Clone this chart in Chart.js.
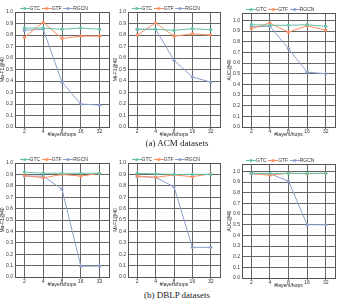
<!DOCTYPE html>
<html>
<head>
<meta charset="utf-8">
<script src="https://cdn.jsdelivr.net/npm/chart.js@4.4.0/dist/chart.umd.min.js"></script>
<style>
  body { margin: 0; background: #fff; width: 349px; height: 307px; position: relative; overflow: hidden; }
  canvas { position: absolute; }
  .cap { position: absolute; left: 0; width: 354px; text-align: center; font-family: "Liberation Serif", serif; font-size: 9px; color: #222; }
</style>
</head>
<body>
<canvas id="acmMa"></canvas>
<canvas id="acmMi"></canvas>
<canvas id="acmAuc"></canvas>
<canvas id="dblpMa"></canvas>
<canvas id="dblpMi"></canvas>
<canvas id="dblpAuc"></canvas>
<div class="cap" style="top:138px">(a) ACM datasets</div>
<div class="cap" style="top:290px">(b) DBLP datasets</div>
<script>
// x categories and series
const hops = ['2', '4', '8', '16', '32'];
const seriesNames = ['GTC', 'GTF', 'RGCN'];
const seriesColors = ['#66c2a5', '#fc8d62', '#8da0cb'];

// ACM
const acmMaGTC = [0.86, 0.86, 0.85, 0.86, 0.85];
const acmMaGTF = [0.78, 0.91, 0.77, 0.79, 0.79];
const acmMaRGCN = [0.84, 0.85, 0.39, 0.20, 0.19];

const acmMiGTC = [0.85, 0.85, 0.84, 0.855, 0.845];
const acmMiGTF = [0.80, 0.905, 0.79, 0.81, 0.80];
const acmMiRGCN = [0.85, 0.85, 0.58, 0.435, 0.39];

const acmAucGTC = [0.96, 0.955, 0.955, 0.96, 0.945];
const acmAucGTF = [0.925, 0.975, 0.89, 0.95, 0.91];
const acmAucRGCN = [0.94, 0.945, 0.735, 0.515, 0.50];

// DBLP
const dblpMaGTC = [0.92, 0.91, 0.91, 0.91, 0.91];
const dblpMaGTF = [0.89, 0.87, 0.90, 0.885, 0.91];
const dblpMaRGCN = [0.885, 0.885, 0.77, 0.095, 0.095];

const dblpMiGTC = [0.91, 0.905, 0.90, 0.90, 0.90];
const dblpMiGTF = [0.885, 0.875, 0.895, 0.88, 0.905];
const dblpMiRGCN = [0.88, 0.875, 0.79, 0.26, 0.26];

const dblpAucGTC = [0.984, 0.982, 0.982, 0.982, 0.983];
const dblpAucGTF = [0.98, 0.965, 0.984, 0.978, 0.984];
const dblpAucRGCN = [0.978, 0.978, 0.91, 0.50, 0.50];

// little "line + dot" icons for the legend
function legendIcon(color) {
  const c = document.createElement('canvas');
  c.width = 10; c.height = 5;
  const g = c.getContext('2d');
  g.strokeStyle = color; g.fillStyle = color; g.lineWidth = 1;
  g.beginPath(); g.moveTo(0, 2.5); g.lineTo(10, 2.5); g.stroke();
  g.beginPath(); g.arc(5, 2.5, 1.6, 0, Math.PI * 2); g.fill();
  return c;
}
const legendIcons = seriesColors.map(legendIcon);

const fixedLegend = {
  id: 'fixedLegend',
  beforeInit(chart) {
    const fit = chart.legend.fit;
    chart.legend.fit = function () { fit.call(this); this.height = 10; };
  }
};

const frame = {
  id: 'frame',
  beforeDatasetsDraw(chart) {
    const { ctx, chartArea: a } = chart;
    ctx.save();
    ctx.strokeStyle = '#555';
    ctx.lineWidth = 1;
    ctx.strokeRect(Math.round(a.left) + 0.5, Math.round(a.top) + 0.5,
      Math.round(a.right - a.left), Math.round(a.bottom - a.top));
    ctx.restore();
  }
};

const font = { family: '"Liberation Sans", Arial, sans-serif', size: 5 };

function makeChart(id, plot, yTitle, yMax, values) {
  const el = document.getElementById(id);
  const left = plot.l - 15, top = plot.t - 10;
  el.width = plot.r - left + 3;
  el.height = plot.b + 12 - top;
  el.style.left = left + 'px';
  el.style.top = top + 'px';

  new Chart(el, {
    type: 'line',
    data: {
      labels: hops,
      datasets: seriesNames.map((name, i) => ({
        label: name,
        data: values[i],
        borderColor: seriesColors[i],
        backgroundColor: seriesColors[i],
        borderWidth: 1,
        pointRadius: 1.6,
        pointBorderWidth: 0,
        tension: 0
      }))
    },
    options: {
      responsive: false,
      animation: false,
      layout: { padding: { left: 0, right: 3, top: 0, bottom: 0 } },
      plugins: {
        tooltip: { enabled: false },
        legend: {
          position: 'top',
          labels: {
            font: font,
            color: '#333',
            padding: 4,
            usePointStyle: true,
            generateLabels(chart) {
              return chart.data.datasets.map((ds, i) => ({
                text: ds.label,
                pointStyle: legendIcons[i],
                fillStyle: ds.borderColor,
                strokeStyle: ds.borderColor,
                lineWidth: 0,
                fontColor: '#333',
                datasetIndex: i
              }));
            }
          }
        }
      },
      scales: {
        x: {
          offset: true,
          grid: { offset: false, color: '#666', lineWidth: 1, tickLength: 2 },
          border: { color: '#444' },
          ticks: { font: font, color: '#333', padding: 0, maxRotation: 0, autoSkip: false },
          title: { display: true, text: '#layers/hops', font: font, color: '#222', padding: { top: 0, bottom: 1 } },
          afterFit(s) { s.height = 12; }
        },
        y: {
          min: 0,
          max: yMax,
          grid: { color: '#666', lineWidth: 1, drawTicks: false },
          border: { color: '#444' },
          ticks: {
            stepSize: 0.1,
            includeBounds: false,
            font: font,
            color: '#333',
            padding: 2,
            callback: v => v.toFixed(1)
          },
          title: { display: true, text: yTitle, font: font, color: '#222', padding: 0 },
          afterFit(s) { s.width = 15; }
        }
      }
    },
    plugins: [fixedLegend, frame]
  });
}

makeChart('acmMa', { l: 15, r: 110, t: 12, b: 127 }, 'Ma-F1@40', 1.0, [acmMaGTC, acmMaGTF, acmMaRGCN]);
makeChart('acmMi', { l: 128, r: 221, t: 12, b: 127 }, 'Mi-F1@40', 1.0, [acmMiGTC, acmMiGTF, acmMiRGCN]);
makeChart('acmAuc', { l: 242, r: 336, t: 13, b: 127 }, 'AUC@40', 1.07, [acmAucGTC, acmAucGTF, acmAucRGCN]);
makeChart('dblpMa', { l: 15, r: 110, t: 163, b: 277 }, 'Ma-F1@40', 1.0, [dblpMaGTC, dblpMaGTF, dblpMaRGCN]);
makeChart('dblpMi', { l: 128, r: 221, t: 163, b: 277 }, 'Mi-F1@40', 1.0, [dblpMiGTC, dblpMiGTF, dblpMiRGCN]);
makeChart('dblpAuc', { l: 242, r: 336, t: 164, b: 278 }, 'AUC@40', 1.07, [dblpAucGTC, dblpAucGTF, dblpAucRGCN]);
</script>
</body>
</html>
